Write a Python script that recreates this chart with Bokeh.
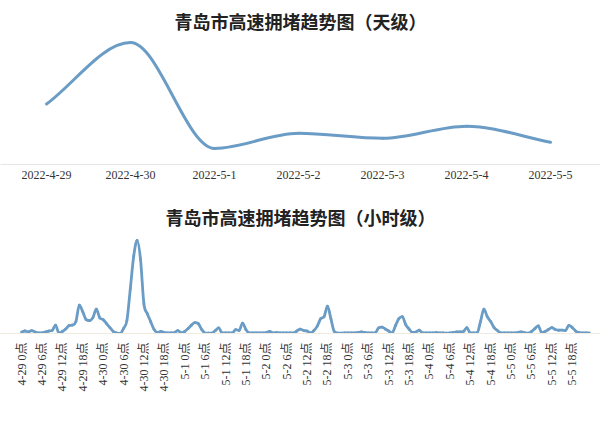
import math
from bokeh.plotting import figure
from bokeh.layouts import column
from bokeh.models import FixedTicker, Range1d, ColumnDataSource
from bokeh.embed import file_html
from bokeh.resources import INLINE

# ---- data ----
days = ["2022-4-29", "2022-4-30", "2022-5-1", "2022-5-2", "2022-5-3", "2022-5-4", "2022-5-5"]
day_values = [60, 121, 16, 31, 26, 38, 22]

hour_days = ["4-29", "4-30", "5-1", "5-2", "5-3", "5-4", "5-5"]
label_hours = [0, 6, 12, 18]
hour_values = [
    1.5, 2.5, 1.5, 3, 1.5, 0.5, 0.5, 1.5, 2.5, 3, 8.5, 0.5,
    2, 4.5, 8, 8.5, 12, 28.5, 22, 14, 13, 16, 24.5, 16,
    14, 10, 6, 2, 0.5, 0, 5, 13, 45, 78, 94, 75,
    30, 20, 12, 4, 1, 2, 1, 0.5, 0.5, 1, 3, 0.5,
    2, 5, 8.5, 11, 10, 4, 0.5, 0.3, 0.5, 3, 5.7, 0.5,
    0.5, 0.5, 0.5, 4, 3, 10.5, 4, 0.5, 0.5, 0.5, 0.5, 0.5,
    1, 2, 0.5, 1, 0.5, 0.5, 0.5, 0.5, 0.5, 2.5, 4.5, 3,
    2.5, 0.5, 3, 7.5, 15, 17, 27.5, 15, 2, 0.5, 0.3, 0.5,
    0.5, 0.5, 0.5, 1, 1.5, 1, 0.5, 0.5, 0.5, 5.5, 6.5, 4.5,
    2.5, 0.5, 8, 15, 17, 9, 4.5, 1, 1.5, 3.3, 0.5, 0.5,
    0.5, 0.5, 1, 0.5, 0.5, 0.3, 0.5, 1, 1.5, 1.5, 2, 6,
    0.5, 0.5, 0.5, 12, 24.5, 17, 12, 6, 3, 0.5, 0.5, 0.5,
    0.5, 0.5, 1, 1.7, 0.8, 0.3, 2, 5, 7.7, 1, 2, 4,
    6, 4, 3.3, 3.5, 3, 8.3, 6, 2.5, 1, 0.5, 0.5, 0.7,
]

LINE = "#6a9cc6"
TITLE_FONT = "Noto Sans CJK SC"
LABEL_FONT = "'Liberation Serif', 'Noto Sans CJK SC'"


def smooth_segments(xs, ys):
    """Monotone cubic (Hermite) segments expressed as Bezier control points."""
    n = len(xs)
    d = [(ys[i + 1] - ys[i]) / (xs[i + 1] - xs[i]) for i in range(n - 1)]
    m = [0.0] * n
    m[0] = d[0]
    m[-1] = d[-1]
    for i in range(1, n - 1):
        if d[i - 1] * d[i] <= 0:
            m[i] = 0.0
        else:
            m[i] = (d[i - 1] + d[i]) / 2
            lim = 3 * min(abs(d[i - 1]), abs(d[i]))
            if abs(m[i]) > lim:
                m[i] = lim if m[i] > 0 else -lim
    seg = dict(x0=[], y0=[], x1=[], y1=[], cx0=[], cy0=[], cx1=[], cy1=[])
    for i in range(n - 1):
        h = xs[i + 1] - xs[i]
        seg["x0"].append(xs[i]); seg["y0"].append(ys[i])
        seg["x1"].append(xs[i + 1]); seg["y1"].append(ys[i + 1])
        seg["cx0"].append(xs[i] + h / 3); seg["cy0"].append(ys[i] + m[i] * h / 3)
        seg["cx1"].append(xs[i + 1] - h / 3); seg["cy1"].append(ys[i + 1] - m[i + 1] * h / 3)
    return ColumnDataSource(seg)


def style(p, title):
    p.title.text = title
    p.title.align = "center"
    p.title.text_font = TITLE_FONT
    p.title.text_font_size = "18px"
    p.title.text_font_style = "bold"
    p.title.text_color = "#222222"
    p.title.standoff = 2
    p.yaxis.visible = False
    p.grid.visible = False
    p.outline_line_color = None
    p.xaxis.major_tick_line_color = None
    p.xaxis.minor_tick_line_color = None
    p.xaxis.major_tick_out = 0
    p.xaxis.major_tick_in = 0
    p.xaxis.major_label_text_font = LABEL_FONT
    p.xaxis.major_label_text_font_size = "12px"
    p.xaxis.major_label_text_color = "#333333"


# ---- daily chart ----
day_x = list(range(len(days)))
p1 = figure(width=600, height=200, output_backend="svg", toolbar_location=None,
            x_range=Range1d(-0.548, 6.595), y_range=Range1d(0, 129),
            min_border_left=0, min_border_right=0, min_border_top=34, min_border_bottom=36)
style(p1, "青岛市高速拥堵趋势图（天级）")
p1.xaxis.ticker = FixedTicker(ticks=day_x)
p1.xaxis.major_label_overrides = {i: d for i, d in zip(day_x, days)}
p1.xaxis.axis_line_color = "#e6e6e6"
p1.xaxis.major_label_standoff = 6
p1.bezier(x0="x0", y0="y0", x1="x1", y1="y1", cx0="cx0", cy0="cy0", cx1="cx1", cy1="cy1",
          source=smooth_segments(day_x, day_values), line_color=LINE, line_width=3, line_cap="round")

# ---- hourly chart ----
hour_x = list(range(len(hour_values)))
tick_pos = [di * 24 + h for di in range(len(hour_days)) for h in label_hours]
tick_lab = [f"{d} {h}点" for d in hour_days for h in label_hours]
p2 = figure(width=600, height=221, output_backend="svg", toolbar_location=None,
            x_range=Range1d(-6.18, 170.3), y_range=Range1d(0, 104),
            min_border_left=0, min_border_right=0, min_border_top=30, min_border_bottom=88)
style(p2, "青岛市高速拥堵趋势图（小时级）")
p2.xaxis.ticker = FixedTicker(ticks=tick_pos)
p2.xaxis.major_label_overrides = {t: l for t, l in zip(tick_pos, tick_lab)}
p2.xaxis.major_label_orientation = math.pi / 2
p2.xaxis.axis_line_color = "#efebe0"
p2.xaxis.major_label_standoff = 9
p2.bezier(x0="x0", y0="y0", x1="x1", y1="y1", cx0="cx0", cy0="cy0", cx1="cx1", cy1="cy1",
          source=smooth_segments(hour_x, hour_values), line_color=LINE, line_width=2.8, line_cap="round")

layout = column(p1, p2, spacing=0)
open("out.html", "w").write(file_html(layout, INLINE))
